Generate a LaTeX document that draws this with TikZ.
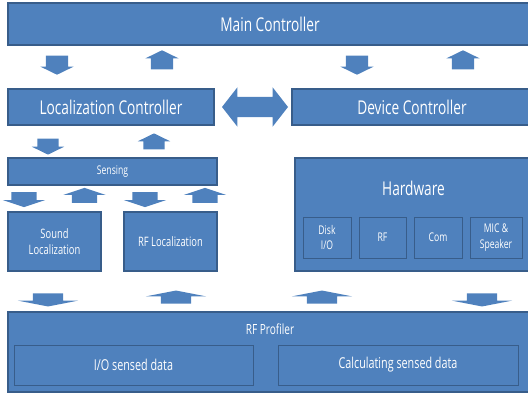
\documentclass[tikz,border=0pt]{standalone}
\usepackage{fontspec}
\setmainfont[FakeStretch=0.72]{Open Sans}
\usetikzlibrary{shapes.arrows}
\definecolor{boxblue}{RGB}{79,129,189}
\definecolor{edgeblue}{RGB}{56,93,138}

\begin{document}
\begin{tikzpicture}[
    x=1pt, y=-1pt,
    box/.style={rectangle, draw=edgeblue, fill=boxblue, line width=1.2pt, text=white, align=center, inner sep=0pt},
    sub/.style={box, line width=1pt},
    big/.style={font=\fontsize{19}{21}\selectfont},
    small/.style 2 args={font=\fontsize{#1}{#2}\selectfont},
    % length, shaft width, head width, tip angle
    blk/.style n args={4}{single arrow, fill=boxblue, inner xsep=0pt, inner ysep={#2/2},
        minimum height=#1, minimum width=#3, single arrow head extend={(#3-#2)/2},
        single arrow tip angle=#4},
    pdown/.style={rotate=-90},
    pup/.style={rotate=90}
]
    \useasboundingbox (0,0) rectangle (528,396);

    % top level
    \node[box, big, minimum width=524, minimum height=42] (main) at (270,24) {Main Controller};
    \node[box, big, minimum width=206, minimum height=36] (loc) at (111,107) {Localization Controller};
    \node[box, big, minimum width=240, minimum height=36] (dev) at (412,107) {Device Controller};
    \node[double arrow, fill=boxblue, inner xsep=0pt, inner ysep=10, minimum height=66, minimum width=39,
          double arrow head extend=9.5, double arrow tip angle=104] (link) at (255,107) {};

    \node[blk={19}{22}{33}{128}, pdown] (a1) at (57,62.5) {};
    \node[blk={19}{22}{33}{128}, pup] (a2) at (162,62.5) {};
    \node[blk={19}{22}{33}{128}, pdown] (a3) at (357,62.5) {};
    \node[blk={19}{22}{33}{128}, pup] (a4) at (463,62.5) {};

    % localization side
    \node[blk={16}{21}{32}{128}, pdown] (b1) at (48,144) {};
    \node[blk={16}{21}{32}{128}, pup] (b2) at (154,144) {};
    \node[box, small={12}{15}, minimum width=209, minimum height=27] (sens) at (112.5,171.5) {Sensing};

    \node[blk={15}{25}{42}{143}, pdown] (c1) at (24,197.5) {};
    \node[blk={15}{25}{42}{143}, pup] (c2) at (84.5,197.5) {};
    \node[blk={15}{25}{42}{143}, pdown] (c3) at (145,197.5) {};
    \node[blk={15}{25}{42}{143}, pup] (c4) at (205,197.5) {};

    \node[box, small={13}{16}, minimum width=93, minimum height=59] (sound) at (54.5,241.5) {Sound\\Localization};
    \node[box, small={13}{16}, minimum width=93, minimum height=59] (rfloc) at (170.5,241.5) {RF Localization};

    % hardware side
    \node[box, minimum width=237, minimum height=113] (hw) at (413.5,214.5) {};
    \node[text=white, big] (hwtitle) at (413.5,188) {Hardware};
    \node[sub, small={12}{15.5}, minimum width=48, minimum height=41] (disk) at (327,237.5) {Disk\\I/O};
    \node[sub, small={12}{15.5}, minimum width=47, minimum height=41] (rf) at (382.5,237.5) {RF};
    \node[sub, small={12}{15.5}, minimum width=48, minimum height=41] (com) at (438,237.5) {Com};
    \node[sub, small={12}{15.5}, minimum width=52, minimum height=41] (mic) at (496,237.5) {MIC \&\\Speaker};

    % profiler
    \node[blk={13}{30}{60}{158}, pdown] (d1) at (48,298.5) {};
    \node[blk={13}{30}{60}{158}, pup] (d2) at (176,298.5) {};
    \node[blk={13}{30}{60}{158}, pup] (d3) at (322,298.5) {};
    \node[blk={13}{30}{60}{158}, pdown] (d4) at (482,298.5) {};

    \node[box, minimum width=524, minimum height=80] (prof) at (270,352) {};
    \node[text=white, small={14}{17}] (proftitle) at (270,329) {RF Profiler};
    \node[sub, small={15}{18}, minimum width=239, minimum height=40] (io) at (133.5,365) {I/O sensed data};
    \node[sub, small={15}{18}, minimum width=240, minimum height=40] (calc) at (398,365) {Calculating sensed data};
\end{tikzpicture}
\end{document}
